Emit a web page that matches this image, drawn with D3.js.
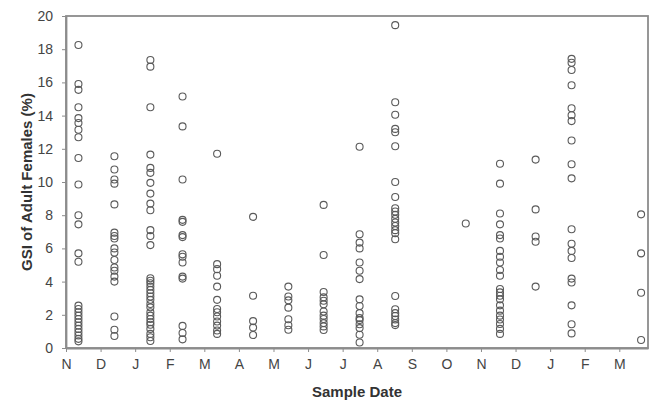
<!DOCTYPE html>
<html>
<head>
<meta charset="utf-8">
<script src="https://cdn.jsdelivr.net/npm/d3@7"></script>
<style>
  body { margin: 0; background: #fff; }
  svg { font-family: "Liberation Sans", Arial, sans-serif; }
  .axis text { fill: #444; font-size: 14px; }
  .axis path, .axis line { stroke: #8c8c8c; }
  .axis-title { fill: #333; font-size: 15px; font-weight: bold; }
</style>
</head>
<body>
<svg id="chart"></svg>
<script>
// month tick labels, Nov .. Mar of the following year (17 months)
const monthLabels = ['N', 'D', 'J', 'F', 'M', 'A', 'M', 'J', 'J', 'A', 'S', 'O', 'N', 'D', 'J', 'F', 'M'];
const yTicks = [0, 2, 4, 6, 8, 10, 12, 14, 16, 18, 20];

// sample dates as months since 1 Nov
const sampleDates = [0.36, 1.40, 2.44, 3.37, 4.37, 5.41, 6.43, 7.45, 8.49, 9.52, 11.56, 12.55, 13.58, 14.62, 16.63];

// GSI (%) of each female, one array per sample
const gsiNov1 = [18.25, 15.9, 15.55, 14.5, 13.85, 13.55, 13.15, 12.7, 11.45, 9.85, 8.0, 7.45, 5.7, 5.2,
  2.55, 2.35, 2.15, 1.95, 1.75, 1.55, 1.35, 1.15, 0.95, 0.75, 0.55, 0.4];
const gsiDec1 = [11.55, 10.75, 10.15, 9.9, 8.65, 6.95, 6.75, 6.6, 6.0, 5.75, 5.3, 4.85, 4.65, 4.3, 4.0, 1.9, 1.1, 0.72];
const gsiJan1 = [17.35, 16.95, 14.5, 11.65, 10.85, 10.55, 9.95, 9.3, 8.7, 8.3, 7.1, 6.75, 6.2,
  4.2, 4.05, 3.9, 3.7, 3.5, 3.3, 3.1, 2.9, 2.65, 2.45, 2.15, 1.95, 1.75, 1.55, 1.4, 1.15, 0.85, 0.65, 0.42];
const gsiFeb1 = [15.15, 13.35, 10.15, 7.72, 7.6, 6.8, 6.68, 5.65, 5.5, 5.15, 4.3, 4.18, 1.33, 0.9, 0.52];
const gsiMar1 = [11.7, 5.05, 4.75, 4.35, 3.7, 2.9, 2.35, 2.15, 1.9, 1.6, 1.35, 1.05, 0.85];
const gsiApr1 = [7.9, 3.15, 1.62, 1.23, 0.78];
const gsiMay1 = [3.7, 3.1, 2.87, 2.43, 1.73, 1.37, 1.1];
const gsiJun1 = [8.62, 5.6, 3.37, 3.05, 2.85, 2.63, 2.2, 1.95, 1.75, 1.5, 1.3, 1.08];
const gsiJul1 = [12.12, 6.85, 6.35, 6.0, 5.15, 4.65, 4.15, 2.93, 2.53, 2.1, 1.8, 1.68, 1.43, 1.2, 0.8, 0.33];
const gsiAug1 = [19.45, 14.8, 14.05, 13.2, 13.0, 12.15, 10.0, 9.1, 8.42, 8.22, 8.02, 7.78, 7.56, 7.35, 7.1, 6.92, 6.55,
  3.13, 2.33, 2.1, 1.93, 1.72, 1.5, 1.38];
const gsiOct1 = [7.5];
const gsiNov2 = [11.1, 9.9, 8.1, 7.45, 6.8, 6.6, 5.85, 5.5, 5.15, 4.7, 4.35, 3.55, 3.35, 3.15, 2.93,
  2.57, 2.25, 1.95, 1.72, 1.45, 1.15, 0.85];
const gsiDec2 = [11.35, 8.35, 6.72, 6.4, 3.7];
const gsiFeb2 = [17.42, 17.18, 16.75, 15.83, 14.44, 14.02, 13.67, 12.5, 11.07, 10.22, 7.15, 6.28, 5.85, 5.42,
  4.18, 3.95, 2.57, 1.43, 0.88];
const gsiMar2 = [8.05, 5.7, 3.33, 0.48];

const gsiSamples = [gsiNov1, gsiDec1, gsiJan1, gsiFeb1, gsiMar1, gsiApr1, gsiMay1, gsiJun1, gsiJul1,
  gsiAug1, gsiOct1, gsiNov2, gsiDec2, gsiFeb2, gsiMar2];

const width = 650, height = 400;
const margin = { top: 16, right: 2, bottom: 52, left: 66 };
const innerW = width - margin.left - margin.right;
const innerH = height - margin.top - margin.bottom;

const svg = d3.select('#chart')
  .attr('width', width)
  .attr('height', height);

const g = svg.append('g')
  .attr('transform', `translate(${margin.left},${margin.top})`);

const x = d3.scaleLinear()
  .domain([0, 16.83])
  .range([0, innerW]);

const y = d3.scaleLinear()
  .domain([0, 20])
  .range([innerH, 0]);

// flatten samples into points
const points = [];
gsiSamples.forEach((vals, i) => {
  vals.forEach(v => points.push({ date: sampleDates[i], gsi: v }));
});

// frame (top and right)
g.append('rect')
  .attr('width', innerW)
  .attr('height', innerH)
  .attr('fill', 'none')
  .attr('stroke', '#8c8c8c')
  .attr('stroke-width', 1.8);

const xAxis = g.append('g')
  .attr('class', 'axis')
  .attr('transform', `translate(0,${innerH})`)
  .call(d3.axisBottom(x)
    .tickValues(d3.range(monthLabels.length))
    .tickFormat(i => monthLabels[i])
    .tickSize(4)
    .tickPadding(7)
    .tickSizeOuter(0));
xAxis.select('.domain').attr('stroke-width', 1.8);
xAxis.selectAll('.tick line').attr('stroke', '#c8c8c8');

const yAxis = g.append('g')
  .attr('class', 'axis')
  .call(d3.axisLeft(y)
    .tickValues(yTicks)
    .tickSize(4)
    .tickPadding(9)
    .tickSizeOuter(0));
yAxis.select('.domain').attr('stroke-width', 1.8);
yAxis.selectAll('.tick line').attr('stroke', '#c8c8c8');

g.selectAll('.dot')
  .data(points)
  .enter().append('circle')
  .attr('class', 'dot')
  .attr('cx', d => x(d.date))
  .attr('cy', d => y(d.gsi))
  .attr('r', 3.5)
  .attr('fill', 'none')
  .attr('stroke', '#5a5a5a')
  .attr('stroke-width', 1.1);

// axis titles
svg.append('text')
  .attr('class', 'axis-title')
  .attr('x', margin.left + innerW / 2)
  .attr('y', 397)
  .attr('text-anchor', 'middle')
  .text('Sample Date');

svg.append('text')
  .attr('class', 'axis-title')
  .attr('transform', `translate(32,${margin.top + innerH / 2}) rotate(-90)`)
  .attr('text-anchor', 'middle')
  .text('GSI of Adult Females (%)');
</script>
</body>
</html>
